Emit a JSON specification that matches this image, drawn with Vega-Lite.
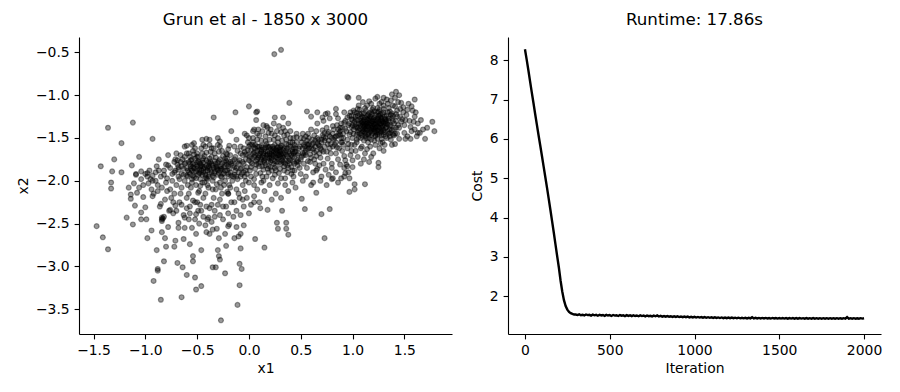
{
"$schema": "https://vega.github.io/schema/vega-lite/v6.json",
"background": "white",
"padding": {"left": 16, "top": 12, "right": 5, "bottom": 5},
"config": {
 "font": "DejaVu Sans",
 "view": {"stroke": null},
 "axis": {"domainColor": "black", "domainWidth": 1.1, "tickColor": "black", "tickWidth": 1.1, "tickSize": 4.9, "labelPadding": 4.9, "labelColor": "black", "labelFontSize": 13.9, "labelFont": "DejaVu Sans", "titleFont": "DejaVu Sans", "titleFontSize": 13.9, "titleFontWeight": "normal", "titleColor": "black", "grid": false, "labelFlush": false, "labelOverlap": false, "titlePadding": 5},
 "title": {"fontSize": 16.7, "fontWeight": "normal", "font": "DejaVu Sans", "color": "black", "anchor": "middle", "frame": "group", "offset": 8},
 "concat": {"spacing": 18}
},
"datasets": {
"scatter": [
{"x1":0.245,"x2":-0.52},{"x1":0.31,"x2":-0.47},
{"x1":-1.47,"x2":-2.53},{"x1":-1.41,"x2":-2.66},{"x1":-1.36,"x2":-2.80},{"x1":-1.36,"x2":-1.38},{"x1":-1.43,"x2":-1.83},{"x1":-1.30,"x2":-1.75},{"x1":-1.32,"x2":-1.89},{"x1":-1.33,"x2":-2.02},{"x1":-1.33,"x2":-2.09},{"x1":-1.23,"x2":-1.90},{"x1":-1.23,"x2":-1.56},{"x1":-1.12,"x2":-1.32},{"x1":-1.18,"x2":-2.43},{"x1":-1.13,"x2":-1.82},{"x1":-1.12,"x2":-2.51},{"x1":-1.16,"x2":-2.08},{"x1":-1.14,"x2":-2.21},{"x1":-1.10,"x2":-2.29},{"x1":-1.06,"x2":-1.72},{"x1":-1.08,"x2":-2.14},{"x1":-1.04,"x2":-2.37},{"x1":-1.02,"x2":-2.19},{"x1":-1.00,"x2":-2.31},{"x1":-0.98,"x2":-2.67},{"x1":-0.94,"x2":-2.58},{"x1":-0.93,"x2":-1.51},{"x1":-0.92,"x2":-3.17},{"x1":-0.89,"x2":-2.81},{"x1":-0.88,"x2":-3.03},{"x1":-0.88,"x2":-3.05},{"x1":-0.85,"x2":-3.39},{"x1":-0.84,"x2":-2.43},{"x1":-0.84,"x2":-2.60},{"x1":-0.84,"x2":-2.45},{"x1":-0.82,"x2":-2.94},{"x1":-0.81,"x2":-2.67},{"x1":-0.80,"x2":-2.77},{"x1":-0.78,"x2":-2.54},{"x1":-0.72,"x2":-2.77},{"x1":-0.71,"x2":-2.70},{"x1":-0.69,"x2":-2.96},{"x1":-0.68,"x2":-2.49},{"x1":-0.65,"x2":-3.36},{"x1":-0.64,"x2":-3.01},{"x1":-0.63,"x2":-2.68},{"x1":-0.62,"x2":-2.55},{"x1":-0.60,"x2":-3.10},{"x1":-0.57,"x2":-2.74},{"x1":-0.54,"x2":-2.94},{"x1":-0.54,"x2":-2.88},{"x1":-0.52,"x2":-3.13},{"x1":-0.51,"x2":-3.27},{"x1":-0.51,"x2":-2.62},{"x1":-0.46,"x2":-3.23},{"x1":-0.46,"x2":-2.81},{"x1":-0.41,"x2":-2.60},{"x1":-0.35,"x2":-3.01},{"x1":-0.32,"x2":-3.01},{"x1":-0.31,"x2":-2.56},{"x1":-0.30,"x2":-2.81},{"x1":-0.29,"x2":-2.88},{"x1":-0.29,"x2":-2.67},{"x1":-0.28,"x2":-2.92},{"x1":-0.27,"x2":-3.63},{"x1":-0.23,"x2":-3.08},{"x1":-0.22,"x2":-2.76},{"x1":-0.20,"x2":-2.53},{"x1":-0.14,"x2":-2.67},{"x1":-0.11,"x2":-3.45},{"x1":-0.12,"x2":-2.54},{"x1":-0.10,"x2":-2.65},{"x1":-0.09,"x2":-3.22},{"x1":-0.09,"x2":-2.97},{"x1":-0.07,"x2":-3.03},{"x1":-0.05,"x2":-2.52},{"x1":0.06,"x2":-2.68},{"x1":0.15,"x2":-2.78},{"x1":0.27,"x2":-2.49},{"x1":0.28,"x2":-2.56},{"x1":0.36,"x2":-2.49},{"x1":0.36,"x2":-2.56},{"x1":0.38,"x2":-2.63},{"x1":0.51,"x2":-2.21},{"x1":0.54,"x2":-2.33},{"x1":0.70,"x2":-2.39},{"x1":0.78,"x2":-2.33},{"x1":0.73,"x2":-2.67},{"x1":0.65,"x2":-2.14},{"x1":0.62,"x2":-2.02},{"x1":0.69,"x2":-2.00},{"x1":0.80,"x2":-1.98},{"x1":0.89,"x2":-1.97},{"x1":0.97,"x2":-2.13},{"x1":1.02,"x2":-2.10},{"x1":1.02,"x2":-2.04},{"x1":1.12,"x2":-2.04},{"x1":0.96,"x2":-1.03},{"x1":1.06,"x2":-1.03},{"x1":1.41,"x2":-1.03},{"x1":1.42,"x2":-0.96},{"x1":1.60,"x2":-1.05},{"x1":1.79,"x2":-1.42},{"x1":1.77,"x2":-1.31},{"x1":1.70,"x2":-1.51},{"x1":1.68,"x2":-1.40},{"x1":1.56,"x2":-1.51},{"x1":1.16,"x2":-1.78},{"x1":1.25,"x2":-1.79},{"x1":0.39,"x2":-1.09},{"x1":0.00,"x2":-1.13},{"x1":-0.34,"x2":-1.26},{"x1":-0.13,"x2":-1.20},{"x1":0.07,"x2":-1.20},{"x1":0.25,"x2":-1.26},{"x1":0.33,"x2":-1.26},
{"x1":0.32,"x2":-2.35},{"x1":0.18,"x2":-2.34},{"x1":0.11,"x2":-2.32},{"x1":-0.19,"x2":-2.51},{"x1":-0.08,"x2":-2.62},{"x1":-0.23,"x2":-2.62},{"x1":-0.38,"x2":-2.62},{"x1":-0.35,"x2":-2.57},{"x1":-0.08,"x2":-2.79},
{"x1":-1.14,"x2":-2.16},{"x1":-0.99,"x2":-2.45},{"x1":-1.04,"x2":-2.45},{"x1":-0.93,"x2":-2.18},{"x1":-0.88,"x2":-2.12},{"x1":-0.85,"x2":-2.27},{"x1":-0.82,"x2":-2.42},{"x1":-0.73,"x2":-2.38},{"x1":-0.76,"x2":-2.34},{"x1":-0.71,"x2":-2.29},{"x1":-0.62,"x2":-2.43},{"x1":-0.57,"x2":-2.38},{"x1":-0.54,"x2":-2.23},{"x1":-0.51,"x2":-2.39},{"x1":-0.46,"x2":-2.35},{"x1":-0.49,"x2":-2.14},
{"x1":-0.87,"x2":-1.75},{"x1":-0.71,"x2":-1.75},{"x1":-0.69,"x2":-1.81},{"x1":-0.60,"x2":-1.59},{"x1":-0.53,"x2":-1.56},{"x1":-0.80,"x2":-1.81},{"x1":-0.89,"x2":-1.83},{"x1":-1.04,"x2":-1.89},{"x1":-0.98,"x2":-1.91},{"x1":-0.93,"x2":-1.94},{"x1":-1.09,"x2":-1.92},{"x1":-1.11,"x2":-2.03},
{"x1":0.08,"x2":-1.19},{"x1":0.07,"x2":-1.29},{"x1":0.56,"x2":-1.19},{"x1":0.71,"x2":-1.26},{"x1":-0.17,"x2":-1.42},{"x1":-0.04,"x2":-1.45},{"x1":0.05,"x2":-1.40},{"x1":0.17,"x2":-1.36},{"x1":-0.41,"x2":-1.51},{"x1":-0.28,"x2":-1.54},{"x1":-0.12,"x2":-1.52},{"x1":-0.19,"x2":-1.59},
{"x1":1.63,"x2":-1.44},{"x1":1.51,"x2":-1.51},{"x1":1.25,"x2":-1.84},{"x1":1.00,"x2":-1.84},{"x1":0.94,"x2":-1.81},{"x1":0.93,"x2":-1.91},{"x1":0.81,"x2":-1.97},{"x1":0.95,"x2":-1.02},{"x1":1.24,"x2":-1.02},{"x1":0.84,"x2":-1.16},{"x1":0.76,"x2":-1.21},
{"x1":1.02,"x2":-1.31},{"x1":1.05,"x2":-1.38},{"x1":1.08,"x2":-1.27},{"x1":1.11,"x2":-1.42},{"x1":1.14,"x2":-1.33},{"x1":1.17,"x2":-1.25},{"x1":1.20,"x2":-1.39},{"x1":1.23,"x2":-1.30},{"x1":1.26,"x2":-1.45},{"x1":1.29,"x2":-1.36},{"x1":1.32,"x2":-1.28},{"x1":1.04,"x2":-1.46},{"x1":1.07,"x2":-1.22},{"x1":1.10,"x2":-1.35},{"x1":1.13,"x2":-1.48},{"x1":1.16,"x2":-1.40},{"x1":1.19,"x2":-1.31},{"x1":1.22,"x2":-1.23},{"x1":1.25,"x2":-1.37},{"x1":1.28,"x2":-1.29},{"x1":1.31,"x2":-1.43},{"x1":1.34,"x2":-1.34},{"x1":1.01,"x2":-1.40},{"x1":1.06,"x2":-1.33},{"x1":1.09,"x2":-1.44},{"x1":1.12,"x2":-1.26},{"x1":1.15,"x2":-1.37},{"x1":1.18,"x2":-1.47},{"x1":1.21,"x2":-1.34},{"x1":1.24,"x2":-1.27},{"x1":1.27,"x2":-1.41},{"x1":1.30,"x2":-1.32},{"x1":1.33,"x2":-1.24},{"x1":1.03,"x2":-1.25},{"x1":1.08,"x2":-1.36},{"x1":1.11,"x2":-1.29},{"x1":1.14,"x2":-1.41},{"x1":1.17,"x2":-1.35},{"x1":1.20,"x2":-1.28},{"x1":1.23,"x2":-1.44},{"x1":1.26,"x2":-1.33},{"x1":1.29,"x2":-1.22},{"x1":1.32,"x2":-1.38},{"x1":1.35,"x2":-1.30},{"x1":1.00,"x2":-1.35},{"x1":1.05,"x2":-1.29},{"x1":1.10,"x2":-1.39},{"x1":1.13,"x2":-1.31},{"x1":1.16,"x2":-1.44},{"x1":1.19,"x2":-1.22},{"x1":1.22,"x2":-1.38},{"x1":1.25,"x2":-1.31},{"x1":1.28,"x2":-1.47},{"x1":1.31,"x2":-1.35},{"x1":1.12,"x2":-1.36},{"x1":1.18,"x2":-1.33},{"x1":1.24,"x2":-1.36},{"x1":1.15,"x2":-1.29},{"x1":1.21,"x2":-1.42},{"x1":1.27,"x2":-1.26},{"x1":0.98,"x2":-1.43},{"x1":1.36,"x2":-1.40},{"x1":1.09,"x2":-1.32},{"x1":1.27,"x2":-1.34},
{"x1":1.03,"x2":-1.34},{"x1":1.06,"x2":-1.41},{"x1":1.09,"x2":-1.25},{"x1":1.12,"x2":-1.47},{"x1":1.15,"x2":-1.32},{"x1":1.18,"x2":-1.38},{"x1":1.21,"x2":-1.26},{"x1":1.24,"x2":-1.41},{"x1":1.27,"x2":-1.30},{"x1":1.30,"x2":-1.46},{"x1":1.33,"x2":-1.37},{"x1":1.05,"x2":-1.24},{"x1":1.08,"x2":-1.30},{"x1":1.11,"x2":-1.37},{"x1":1.14,"x2":-1.24},{"x1":1.17,"x2":-1.43},{"x1":1.20,"x2":-1.33},{"x1":1.23,"x2":-1.37},{"x1":1.26,"x2":-1.24},{"x1":1.29,"x2":-1.40},{"x1":1.32,"x2":-1.31},{"x1":1.07,"x2":-1.45},{"x1":1.10,"x2":-1.31},{"x1":1.13,"x2":-1.39},{"x1":1.16,"x2":-1.27},{"x1":1.19,"x2":-1.45},{"x1":1.22,"x2":-1.29},{"x1":1.25,"x2":-1.43},{"x1":1.28,"x2":-1.33},{"x1":1.31,"x2":-1.25},{"x1":1.04,"x2":-1.37},{"x1":1.13,"x2":-1.34},{"x1":1.19,"x2":-1.36},{"x1":1.22,"x2":-1.33},{"x1":1.16,"x2":-1.34},{"x1":1.25,"x2":-1.28},{"x1":1.10,"x2":-1.42},{"x1":1.28,"x2":-1.38},{"x1":1.14,"x2":-1.28},{"x1":1.21,"x2":-1.40},{"x1":1.35,"x2":-1.27},{"x1":1.37,"x2":-1.35},{"x1":1.39,"x2":-1.24},{"x1":1.36,"x2":-1.44},{"x1":1.00,"x2":-1.29},{"x1":0.99,"x2":-1.37},{"x1":1.11,"x2":-1.21},{"x1":1.18,"x2":-1.20},{"x1":1.24,"x2":-1.20},{"x1":1.30,"x2":-1.20},
{"x1":0.88,"x2":-1.38},{"x1":0.91,"x2":-1.45},{"x1":0.93,"x2":-1.30},{"x1":0.95,"x2":-1.52},{"x1":0.97,"x2":-1.24},{"x1":0.99,"x2":-1.58},{"x1":1.01,"x2":-1.18},{"x1":1.04,"x2":-1.55},{"x1":1.06,"x2":-1.12},{"x1":1.09,"x2":-1.60},{"x1":1.12,"x2":-1.15},{"x1":1.15,"x2":-1.55},{"x1":1.18,"x2":-1.10},{"x1":1.21,"x2":-1.53},{"x1":1.24,"x2":-1.15},{"x1":1.27,"x2":-1.56},{"x1":1.30,"x2":-1.12},{"x1":1.33,"x2":-1.50},{"x1":1.36,"x2":-1.19},{"x1":1.39,"x2":-1.46},{"x1":1.42,"x2":-1.22},{"x1":1.45,"x2":-1.38},{"x1":1.48,"x2":-1.28},{"x1":1.40,"x2":-1.33},{"x1":1.38,"x2":-1.27},{"x1":1.43,"x2":-1.45},{"x1":1.46,"x2":-1.16},{"x1":1.50,"x2":-1.35},{"x1":1.52,"x2":-1.23},{"x1":1.55,"x2":-1.30},{"x1":1.57,"x2":-1.42},{"x1":1.53,"x2":-1.48},{"x1":1.58,"x2":-1.18},{"x1":1.60,"x2":-1.25},{"x1":1.47,"x2":-1.09},{"x1":1.44,"x2":-1.08},{"x1":1.37,"x2":-1.06},{"x1":1.33,"x2":-1.05},{"x1":1.28,"x2":-1.08},{"x1":1.22,"x2":-1.04},{"x1":1.16,"x2":-1.07},{"x1":1.10,"x2":-1.08},{"x1":0.92,"x2":-1.20},{"x1":0.90,"x2":-1.55},{"x1":0.86,"x2":-1.27},{"x1":0.84,"x2":-1.48},{"x1":0.95,"x2":-1.62},{"x1":1.03,"x2":-1.65},{"x1":1.14,"x2":-1.63},{"x1":1.20,"x2":-1.68},{"x1":1.26,"x2":-1.62},{"x1":1.31,"x2":-1.58},{"x1":1.37,"x2":-1.52},{"x1":1.41,"x2":-1.57},{"x1":1.05,"x2":-1.72},{"x1":0.98,"x2":-1.70},{"x1":1.11,"x2":-1.75},{"x1":0.93,"x2":-1.76},{"x1":1.60,"x2":-1.40},{"x1":1.63,"x2":-1.33},{"x1":1.65,"x2":-1.44},{"x1":1.41,"x2":-1.13},{"x1":1.35,"x2":-1.15},{"x1":1.49,"x2":-1.20},{"x1":1.54,"x2":-1.10},{"x1":0.96,"x2":-1.35},{"x1":0.99,"x2":-1.28},{"x1":0.94,"x2":-1.42},{"x1":1.19,"x2":-1.17},{"x1":1.25,"x2":-1.19},
{"x1":0.48,"x2":-1.62},{"x1":0.51,"x2":-1.55},{"x1":0.53,"x2":-1.70},{"x1":0.55,"x2":-1.48},{"x1":0.57,"x2":-1.63},{"x1":0.59,"x2":-1.78},{"x1":0.61,"x2":-1.52},{"x1":0.63,"x2":-1.67},{"x1":0.65,"x2":-1.42},{"x1":0.67,"x2":-1.58},{"x1":0.69,"x2":-1.73},{"x1":0.71,"x2":-1.47},{"x1":0.73,"x2":-1.60},{"x1":0.75,"x2":-1.38},{"x1":0.77,"x2":-1.53},{"x1":0.79,"x2":-1.68},{"x1":0.81,"x2":-1.45},{"x1":0.83,"x2":-1.58},{"x1":0.85,"x2":-1.35},{"x1":0.87,"x2":-1.62},{"x1":0.89,"x2":-1.50},{"x1":0.56,"x2":-1.85},{"x1":0.62,"x2":-1.90},{"x1":0.68,"x2":-1.82},{"x1":0.74,"x2":-1.87},{"x1":0.80,"x2":-1.80},{"x1":0.86,"x2":-1.75},{"x1":0.60,"x2":-1.40},{"x1":0.66,"x2":-1.33},{"x1":0.72,"x2":-1.30},{"x1":0.78,"x2":-1.27},{"x1":0.84,"x2":-1.22},{"x1":0.52,"x2":-1.45},{"x1":0.58,"x2":-1.57},{"x1":0.64,"x2":-1.60},{"x1":0.70,"x2":-1.55},{"x1":0.76,"x2":-1.45},{"x1":0.82,"x2":-1.40},{"x1":0.88,"x2":-1.42},{"x1":0.54,"x2":-1.60},{"x1":0.66,"x2":-1.50},{"x1":0.72,"x2":-1.66},{"x1":0.90,"x2":-1.65},{"x1":0.50,"x2":-1.75},{"x1":0.63,"x2":-1.75},{"x1":0.77,"x2":-1.93},{"x1":0.84,"x2":-1.90},{"x1":0.70,"x2":-1.95},{"x1":0.55,"x2":-1.95},{"x1":0.92,"x2":-1.85},{"x1":0.96,"x2":-1.90},{"x1":0.60,"x2":-1.25},{"x1":0.74,"x2":-1.22},{"x1":0.66,"x2":-1.20},
{"x1":0.02,"x2":-1.65},{"x1":0.05,"x2":-1.72},{"x1":0.08,"x2":-1.60},{"x1":0.11,"x2":-1.78},{"x1":0.14,"x2":-1.68},{"x1":0.17,"x2":-1.57},{"x1":0.20,"x2":-1.74},{"x1":0.23,"x2":-1.64},{"x1":0.26,"x2":-1.82},{"x1":0.29,"x2":-1.70},{"x1":0.32,"x2":-1.59},{"x1":0.35,"x2":-1.76},{"x1":0.38,"x2":-1.66},{"x1":0.41,"x2":-1.84},{"x1":0.44,"x2":-1.72},{"x1":0.03,"x2":-1.80},{"x1":0.06,"x2":-1.62},{"x1":0.09,"x2":-1.70},{"x1":0.12,"x2":-1.59},{"x1":0.15,"x2":-1.76},{"x1":0.18,"x2":-1.66},{"x1":0.21,"x2":-1.84},{"x1":0.24,"x2":-1.71},{"x1":0.27,"x2":-1.61},{"x1":0.30,"x2":-1.78},{"x1":0.33,"x2":-1.68},{"x1":0.36,"x2":-1.57},{"x1":0.39,"x2":-1.74},{"x1":0.42,"x2":-1.63},{"x1":0.04,"x2":-1.68},{"x1":0.07,"x2":-1.77},{"x1":0.10,"x2":-1.64},{"x1":0.13,"x2":-1.72},{"x1":0.16,"x2":-1.82},{"x1":0.19,"x2":-1.61},{"x1":0.22,"x2":-1.69},{"x1":0.25,"x2":-1.58},{"x1":0.28,"x2":-1.75},{"x1":0.31,"x2":-1.65},{"x1":0.34,"x2":-1.83},{"x1":0.37,"x2":-1.71},{"x1":0.40,"x2":-1.60},{"x1":0.43,"x2":-1.78},{"x1":0.01,"x2":-1.72},{"x1":0.26,"x2":-1.68},{"x1":0.22,"x2":-1.76},{"x1":0.30,"x2":-1.72},{"x1":0.18,"x2":-1.73},{"x1":0.33,"x2":-1.64},{"x1":0.24,"x2":-1.66},{"x1":0.28,"x2":-1.67},{"x1":0.20,"x2":-1.68},{"x1":0.12,"x2":-1.66},{"x1":0.36,"x2":-1.69},{"x1":0.08,"x2":-1.75},{"x1":0.15,"x2":-1.63},{"x1":0.27,"x2":-1.73},{"x1":0.31,"x2":-1.80},{"x1":0.23,"x2":-1.60},
{"x1":0.05,"x2":-1.67},{"x1":0.09,"x2":-1.73},{"x1":0.13,"x2":-1.61},{"x1":0.17,"x2":-1.70},{"x1":0.21,"x2":-1.63},{"x1":0.25,"x2":-1.77},{"x1":0.29,"x2":-1.64},{"x1":0.33,"x2":-1.73},{"x1":0.37,"x2":-1.62},{"x1":0.41,"x2":-1.70},{"x1":0.07,"x2":-1.81},{"x1":0.11,"x2":-1.68},{"x1":0.15,"x2":-1.79},{"x1":0.19,"x2":-1.77},{"x1":0.23,"x2":-1.70},{"x1":0.27,"x2":-1.65},{"x1":0.31,"x2":-1.69},{"x1":0.35,"x2":-1.80},{"x1":0.39,"x2":-1.68},{"x1":0.03,"x2":-1.74},{"x1":0.20,"x2":-1.60},{"x1":0.24,"x2":-1.80},{"x1":0.28,"x2":-1.61},{"x1":0.32,"x2":-1.76},{"x1":0.16,"x2":-1.66},{"x1":0.12,"x2":-1.75},{"x1":0.26,"x2":-1.72},{"x1":0.22,"x2":-1.66},{"x1":0.30,"x2":-1.66},{"x1":0.18,"x2":-1.69},{"x1":0.34,"x2":-1.70},{"x1":0.10,"x2":-1.60},{"x1":0.14,"x2":-1.70},{"x1":0.38,"x2":-1.77},{"x1":0.06,"x2":-1.58},{"x1":0.42,"x2":-1.66},
{"x1":-0.05,"x2":-1.62},{"x1":-0.03,"x2":-1.75},{"x1":-0.01,"x2":-1.55},{"x1":0.01,"x2":-1.88},{"x1":0.04,"x2":-1.50},{"x1":0.07,"x2":-1.92},{"x1":0.10,"x2":-1.47},{"x1":0.13,"x2":-1.95},{"x1":0.16,"x2":-1.48},{"x1":0.19,"x2":-1.90},{"x1":0.22,"x2":-1.45},{"x1":0.25,"x2":-1.93},{"x1":0.28,"x2":-1.50},{"x1":0.31,"x2":-1.97},{"x1":0.34,"x2":-1.47},{"x1":0.37,"x2":-1.90},{"x1":0.40,"x2":-1.50},{"x1":0.43,"x2":-1.95},{"x1":0.46,"x2":-1.55},{"x1":0.49,"x2":-1.85},{"x1":0.52,"x2":-1.68},{"x1":0.47,"x2":-1.70},{"x1":0.45,"x2":-1.62},{"x1":0.50,"x2":-1.92},{"x1":-0.07,"x2":-1.85},{"x1":-0.04,"x2":-1.95},{"x1":0.00,"x2":-2.02},{"x1":0.05,"x2":-2.05},{"x1":0.12,"x2":-2.02},{"x1":0.20,"x2":-2.05},{"x1":0.28,"x2":-2.03},{"x1":0.35,"x2":-2.05},{"x1":0.42,"x2":-2.02},{"x1":0.09,"x2":-1.40},{"x1":0.18,"x2":-1.38},{"x1":0.27,"x2":-1.42},{"x1":0.33,"x2":-1.38},{"x1":0.40,"x2":-1.42},{"x1":0.14,"x2":-1.35},{"x1":0.24,"x2":-1.33},{"x1":0.04,"x2":-1.42},{"x1":0.38,"x2":-1.33},{"x1":0.46,"x2":-1.45},{"x1":-0.02,"x2":-1.47},{"x1":0.15,"x2":-2.12},{"x1":0.26,"x2":-2.15},{"x1":0.05,"x2":-2.18},{"x1":0.38,"x2":-2.12},{"x1":0.31,"x2":-2.20},{"x1":0.45,"x2":-2.08},{"x1":0.10,"x2":-2.25},{"x1":0.22,"x2":-2.22},{"x1":-0.06,"x2":-1.70},{"x1":0.48,"x2":-1.78},{"x1":0.53,"x2":-1.80},
{"x1":-0.60,"x2":-1.85},{"x1":-0.57,"x2":-1.92},{"x1":-0.54,"x2":-1.80},{"x1":-0.51,"x2":-1.97},{"x1":-0.48,"x2":-1.87},{"x1":-0.45,"x2":-1.76},{"x1":-0.42,"x2":-1.93},{"x1":-0.39,"x2":-1.83},{"x1":-0.36,"x2":-1.72},{"x1":-0.33,"x2":-1.89},{"x1":-0.30,"x2":-1.79},{"x1":-0.27,"x2":-1.95},{"x1":-0.24,"x2":-1.84},{"x1":-0.21,"x2":-1.74},{"x1":-0.18,"x2":-1.90},{"x1":-0.15,"x2":-1.82},{"x1":-0.58,"x2":-1.78},{"x1":-0.55,"x2":-1.88},{"x1":-0.52,"x2":-1.74},{"x1":-0.49,"x2":-1.93},{"x1":-0.46,"x2":-1.82},{"x1":-0.43,"x2":-1.71},{"x1":-0.40,"x2":-1.88},{"x1":-0.37,"x2":-1.78},{"x1":-0.34,"x2":-1.96},{"x1":-0.31,"x2":-1.86},{"x1":-0.28,"x2":-1.75},{"x1":-0.25,"x2":-1.92},{"x1":-0.22,"x2":-1.81},{"x1":-0.19,"x2":-1.86},{"x1":-0.16,"x2":-1.77},{"x1":-0.59,"x2":-1.95},{"x1":-0.56,"x2":-1.83},{"x1":-0.53,"x2":-1.90},{"x1":-0.50,"x2":-1.79},{"x1":-0.47,"x2":-1.98},{"x1":-0.44,"x2":-1.86},{"x1":-0.41,"x2":-1.76},{"x1":-0.38,"x2":-1.92},{"x1":-0.35,"x2":-1.82},{"x1":-0.32,"x2":-1.73},{"x1":-0.29,"x2":-1.91},{"x1":-0.26,"x2":-1.80},{"x1":-0.23,"x2":-1.88},{"x1":-0.20,"x2":-1.83},{"x1":-0.50,"x2":-1.86},{"x1":-0.44,"x2":-1.90},{"x1":-0.47,"x2":-1.84},{"x1":-0.53,"x2":-1.85},{"x1":-0.41,"x2":-1.82},{"x1":-0.38,"x2":-1.85},
{"x1":-0.56,"x2":-1.86},{"x1":-0.52,"x2":-1.81},{"x1":-0.48,"x2":-1.91},{"x1":-0.44,"x2":-1.79},{"x1":-0.40,"x2":-1.85},{"x1":-0.36,"x2":-1.90},{"x1":-0.32,"x2":-1.80},{"x1":-0.28,"x2":-1.88},{"x1":-0.24,"x2":-1.78},{"x1":-0.20,"x2":-1.92},{"x1":-0.54,"x2":-1.94},{"x1":-0.50,"x2":-1.83},{"x1":-0.46,"x2":-1.88},{"x1":-0.42,"x2":-1.96},{"x1":-0.38,"x2":-1.80},{"x1":-0.34,"x2":-1.85},{"x1":-0.30,"x2":-1.93},{"x1":-0.26,"x2":-1.86},{"x1":-0.22,"x2":-1.77},{"x1":-0.58,"x2":-1.90},{"x1":-0.49,"x2":-1.77},{"x1":-0.43,"x2":-1.84},{"x1":-0.37,"x2":-1.87},{"x1":-0.31,"x2":-1.83},{"x1":-0.45,"x2":-1.93},{"x1":-0.55,"x2":-1.75},{"x1":-0.27,"x2":-1.83},{"x1":-0.33,"x2":-1.77},{"x1":-0.39,"x2":-1.95},{"x1":-0.47,"x2":-1.80},
{"x1":-0.85,"x2":-1.95},{"x1":-0.82,"x2":-1.88},{"x1":-0.80,"x2":-2.02},{"x1":-0.78,"x2":-1.82},{"x1":-0.76,"x2":-2.10},{"x1":-0.74,"x2":-1.92},{"x1":-0.72,"x2":-1.78},{"x1":-0.70,"x2":-2.05},{"x1":-0.68,"x2":-1.87},{"x1":-0.66,"x2":-2.15},{"x1":-0.64,"x2":-1.75},{"x1":-0.62,"x2":-2.00},{"x1":-0.60,"x2":-2.20},{"x1":-0.58,"x2":-1.68},{"x1":-0.56,"x2":-2.08},{"x1":-0.54,"x2":-1.65},{"x1":-0.52,"x2":-2.25},{"x1":-0.50,"x2":-1.68},{"x1":-0.48,"x2":-2.12},{"x1":-0.46,"x2":-1.62},{"x1":-0.44,"x2":-2.20},{"x1":-0.42,"x2":-1.60},{"x1":-0.40,"x2":-2.05},{"x1":-0.38,"x2":-1.58},{"x1":-0.36,"x2":-2.28},{"x1":-0.34,"x2":-1.62},{"x1":-0.32,"x2":-2.10},{"x1":-0.30,"x2":-1.58},{"x1":-0.28,"x2":-2.22},{"x1":-0.26,"x2":-1.65},{"x1":-0.24,"x2":-2.05},{"x1":-0.22,"x2":-1.68},{"x1":-0.20,"x2":-2.15},{"x1":-0.18,"x2":-1.70},{"x1":-0.16,"x2":-2.00},{"x1":-0.14,"x2":-1.75},{"x1":-0.12,"x2":-2.10},{"x1":-0.10,"x2":-1.80},{"x1":-0.08,"x2":-1.95},{"x1":-0.06,"x2":-2.05},{"x1":-0.11,"x2":-1.65},{"x1":-0.13,"x2":-1.88},{"x1":-0.09,"x2":-2.20},{"x1":-0.17,"x2":-2.25},{"x1":-0.25,"x2":-2.30},{"x1":-0.33,"x2":-2.35},{"x1":-0.41,"x2":-2.30},{"x1":-0.49,"x2":-2.35},{"x1":-0.57,"x2":-2.30},{"x1":-0.65,"x2":-2.28},{"x1":-0.73,"x2":-2.25},{"x1":-0.81,"x2":-2.22},{"x1":-0.88,"x2":-2.05},{"x1":-0.90,"x2":-1.90},{"x1":-0.93,"x2":-2.00},{"x1":-0.96,"x2":-1.88},{"x1":-0.98,"x2":-1.95},{"x1":-1.00,"x2":-1.92},{"x1":-1.04,"x2":-1.98},{"x1":-1.06,"x2":-2.08},{"x1":-1.09,"x2":-1.93},{"x1":-0.78,"x2":-1.70},{"x1":-0.70,"x2":-1.68},{"x1":-0.62,"x2":-1.60},{"x1":-0.55,"x2":-1.58},{"x1":-0.45,"x2":-1.52},{"x1":-0.38,"x2":-1.52},{"x1":-0.30,"x2":-1.50},{"x1":-0.62,"x2":-1.72},{"x1":-0.68,"x2":-1.95},{"x1":-0.35,"x2":-2.00},{"x1":-0.45,"x2":-2.02},{"x1":-0.55,"x2":-2.02},{"x1":-0.28,"x2":-2.02},{"x1":-0.20,"x2":-1.95},{"x1":-0.72,"x2":-2.15},{"x1":-0.77,"x2":-2.35},{"x1":-0.63,"x2":-2.40},{"x1":-0.52,"x2":-2.45},{"x1":-0.44,"x2":-2.42},{"x1":-0.36,"x2":-2.48},{"x1":-0.28,"x2":-2.40},{"x1":-0.20,"x2":-2.38},{"x1":-0.12,"x2":-2.35},{"x1":-0.05,"x2":-2.30},{"x1":-0.02,"x2":-2.20},{"x1":0.02,"x2":-2.28},{"x1":-0.86,"x2":-2.30},{"x1":-0.92,"x2":-2.15},
{"x1":-0.12,"x2":-1.85},{"x1":-0.10,"x2":-1.90},{"x1":-0.14,"x2":-1.93},{"x1":-0.20,"x2":-2.15},{"x1":-0.21,"x2":-2.13},{"x1":-0.40,"x2":-2.45},{"x1":-0.39,"x2":-2.43},{"x1":0.65,"x2":-1.88},{"x1":0.66,"x2":-1.86},{"x1":0.95,"x2":-1.83},{"x1":0.56,"x2":-1.53},{"x1":0.58,"x2":-1.62},{"x1":0.53,"x2":-1.58},{"x1":-0.02,"x2":-1.92},{"x1":0.02,"x2":-1.95},{"x1":0.08,"x2":-2.10},{"x1":0.14,"x2":-2.00},{"x1":-0.84,"x2":-2.47},{"x1":-0.83,"x2":-2.44},
{"x1":0.42,"x2":-1.55},{"x1":0.44,"x2":-1.66},{"x1":0.46,"x2":-1.49},{"x1":0.49,"x2":-1.60},{"x1":0.51,"x2":-1.72},{"x1":0.53,"x2":-1.51},{"x1":0.55,"x2":-1.64},{"x1":0.57,"x2":-1.45},{"x1":0.59,"x2":-1.69},{"x1":0.61,"x2":-1.58},{"x1":0.63,"x2":-1.47},{"x1":0.65,"x2":-1.71},{"x1":0.67,"x2":-1.52},{"x1":0.69,"x2":-1.62},{"x1":0.71,"x2":-1.41},{"x1":0.73,"x2":-1.53},{"x1":0.75,"x2":-1.66},{"x1":0.77,"x2":-1.43},{"x1":0.79,"x2":-1.57},{"x1":0.81,"x2":-1.36},{"x1":0.83,"x2":-1.49},{"x1":0.85,"x2":-1.61},{"x1":0.87,"x2":-1.44},{"x1":0.89,"x2":-1.33},{"x1":0.91,"x2":-1.58},{"x1":0.93,"x2":-1.39},{"x1":0.50,"x2":-1.50},{"x1":0.54,"x2":-1.67},{"x1":0.58,"x2":-1.50},{"x1":0.62,"x2":-1.63},{"x1":0.66,"x2":-1.56},{"x1":0.70,"x2":-1.64},{"x1":0.74,"x2":-1.50},{"x1":0.78,"x2":-1.62},{"x1":0.82,"x2":-1.52},{"x1":0.86,"x2":-1.47},{"x1":0.90,"x2":-1.38},{"x1":0.60,"x2":-1.73},{"x1":0.68,"x2":-1.68},{"x1":0.76,"x2":-1.74},{"x1":0.84,"x2":-1.68},{"x1":0.92,"x2":-1.71},{"x1":0.64,"x2":-1.80},{"x1":0.72,"x2":-1.80},{"x1":0.80,"x2":-1.85},{"x1":0.88,"x2":-1.81},{"x1":0.57,"x2":-1.77},{"x1":0.47,"x2":-1.82},{"x1":0.44,"x2":-1.88},{"x1":0.52,"x2":-2.00},{"x1":0.60,"x2":-2.05},{"x1":0.75,"x2":-2.05},{"x1":0.86,"x2":-2.02},{"x1":0.97,"x2":-1.97},{"x1":0.92,"x2":-1.95},
{"x1":0.92,"x2":-1.32},{"x1":0.95,"x2":-1.26},{"x1":0.97,"x2":-1.46},{"x1":1.00,"x2":-1.50},{"x1":1.02,"x2":-1.20},{"x1":1.04,"x2":-1.52},{"x1":1.07,"x2":-1.17},{"x1":1.08,"x2":-1.50},{"x1":1.11,"x2":-1.53},{"x1":1.13,"x2":-1.18},{"x1":1.16,"x2":-1.50},{"x1":1.18,"x2":-1.52},{"x1":1.20,"x2":-1.15},{"x1":1.22,"x2":-1.48},{"x1":1.24,"x2":-1.51},{"x1":1.26,"x2":-1.17},{"x1":1.28,"x2":-1.51},{"x1":1.30,"x2":-1.16},{"x1":1.32,"x2":-1.48},{"x1":1.34,"x2":-1.20},{"x1":1.36,"x2":-1.48},{"x1":1.38,"x2":-1.21},{"x1":1.40,"x2":-1.40},{"x1":1.42,"x2":-1.30},{"x1":1.44,"x2":-1.35},{"x1":1.46,"x2":-1.25},{"x1":1.41,"x2":-1.45},{"x1":1.43,"x2":-1.18},{"x1":1.34,"x2":-1.10},{"x1":1.26,"x2":-1.10},{"x1":1.14,"x2":-1.12},{"x1":1.05,"x2":-1.16},{"x1":0.98,"x2":-1.20},{"x1":1.47,"x2":-1.31},{"x1":1.50,"x2":-1.44},{"x1":1.45,"x2":-1.51},{"x1":1.38,"x2":-1.58},{"x1":1.22,"x2":-1.58},{"x1":1.08,"x2":-1.62},{"x1":0.99,"x2":-1.65},{"x1":1.17,"x2":-1.60},{"x1":1.29,"x2":-1.55},{"x1":1.49,"x2":-1.14},{"x1":1.51,"x2":-1.29},{"x1":1.39,"x2":-1.12},{"x1":1.02,"x2":-1.58},{"x1":0.91,"x2":-1.50},{"x1":0.96,"x2":-1.57},{"x1":1.12,"x2":-1.68},{"x1":1.00,"x2":-1.76},{"x1":1.08,"x2":-1.80},{"x1":1.18,"x2":-1.72},{"x1":1.30,"x2":-1.65},{"x1":1.56,"x2":-1.37},{"x1":1.59,"x2":-1.31},{"x1":1.61,"x2":-1.20},{"x1":1.66,"x2":-1.29},{"x1":1.72,"x2":-1.38},{"x1":1.53,"x2":-1.17},{"x1":1.57,"x2":-1.13},{"x1":1.62,"x2":-1.48},{"x1":1.45,"x2":-1.00},{"x1":1.38,"x2":-0.99},{"x1":1.30,"x2":-1.03},
{"x1":-0.08,"x2":-1.60},{"x1":-0.06,"x2":-1.78},{"x1":-0.04,"x2":-1.66},{"x1":-0.02,"x2":-1.84},{"x1":0.00,"x2":-1.60},{"x1":0.02,"x2":-1.78},{"x1":0.04,"x2":-1.55},{"x1":0.06,"x2":-1.86},{"x1":0.08,"x2":-1.52},{"x1":0.10,"x2":-1.83},{"x1":0.12,"x2":-1.53},{"x1":0.14,"x2":-1.87},{"x1":0.16,"x2":-1.54},{"x1":0.18,"x2":-1.86},{"x1":0.20,"x2":-1.52},{"x1":0.22,"x2":-1.88},{"x1":0.24,"x2":-1.52},{"x1":0.26,"x2":-1.88},{"x1":0.28,"x2":-1.55},{"x1":0.30,"x2":-1.86},{"x1":0.32,"x2":-1.53},{"x1":0.34,"x2":-1.88},{"x1":0.36,"x2":-1.52},{"x1":0.38,"x2":-1.85},{"x1":0.40,"x2":-1.55},{"x1":0.42,"x2":-1.88},{"x1":0.44,"x2":-1.58},{"x1":0.46,"x2":-1.78},{"x1":0.48,"x2":-1.68},{"x1":0.43,"x2":-1.68},{"x1":0.01,"x2":-1.58},{"x1":0.05,"x2":-1.98},{"x1":0.11,"x2":-1.91},{"x1":0.17,"x2":-1.95},{"x1":0.23,"x2":-1.97},{"x1":0.29,"x2":-1.91},{"x1":0.35,"x2":-1.97},{"x1":0.41,"x2":-1.92},{"x1":-0.03,"x2":-2.00},{"x1":0.08,"x2":-1.45},{"x1":0.13,"x2":-1.42},{"x1":0.19,"x2":-1.44},{"x1":0.25,"x2":-1.47},{"x1":0.31,"x2":-1.43},{"x1":0.37,"x2":-1.46},{"x1":0.43,"x2":-1.50},{"x1":0.00,"x2":-1.50},{"x1":0.21,"x2":-1.40},{"x1":0.29,"x2":-1.36},{"x1":0.35,"x2":-1.42},
{"x1":-0.82,"x2":-1.93},{"x1":-0.79,"x2":-1.97},{"x1":-0.76,"x2":-1.85},{"x1":-0.74,"x2":-2.00},{"x1":-0.71,"x2":-1.88},{"x1":-0.69,"x2":-1.76},{"x1":-0.67,"x2":-1.98},{"x1":-0.65,"x2":-1.83},{"x1":-0.63,"x2":-1.93},{"x1":-0.61,"x2":-1.79},{"x1":-0.59,"x2":-2.05},{"x1":-0.57,"x2":-1.72},{"x1":-0.55,"x2":-1.98},{"x1":-0.53,"x2":-1.69},{"x1":-0.51,"x2":-2.05},{"x1":-0.49,"x2":-1.72},{"x1":-0.47,"x2":-2.06},{"x1":-0.45,"x2":-1.68},{"x1":-0.43,"x2":-2.02},{"x1":-0.41,"x2":-1.67},{"x1":-0.39,"x2":-2.08},{"x1":-0.37,"x2":-1.66},{"x1":-0.35,"x2":-2.10},{"x1":-0.33,"x2":-1.68},{"x1":-0.31,"x2":-2.04},{"x1":-0.29,"x2":-1.66},{"x1":-0.27,"x2":-2.08},{"x1":-0.25,"x2":-1.71},{"x1":-0.23,"x2":-2.00},{"x1":-0.21,"x2":-1.69},{"x1":-0.19,"x2":-2.05},{"x1":-0.17,"x2":-1.80},{"x1":-0.15,"x2":-1.95},{"x1":-0.13,"x2":-1.72},{"x1":-0.11,"x2":-1.98},{"x1":-0.09,"x2":-1.76},{"x1":-0.07,"x2":-1.92},{"x1":-0.05,"x2":-1.80},{"x1":-0.03,"x2":-1.88},{"x1":-0.01,"x2":-1.70},{"x1":-0.66,"x2":-1.70},{"x1":-0.72,"x2":-1.90},{"x1":-0.60,"x2":-1.68},{"x1":-0.52,"x2":-1.62},{"x1":-0.44,"x2":-1.58},{"x1":-0.36,"x2":-1.62},{"x1":-0.28,"x2":-1.60},{"x1":-0.20,"x2":-1.63},{"x1":-0.14,"x2":-1.60},{"x1":-0.08,"x2":-1.68},{"x1":-0.75,"x2":-2.20},{"x1":-0.67,"x2":-2.25},{"x1":-0.58,"x2":-2.15},{"x1":-0.50,"x2":-2.25},{"x1":-0.42,"x2":-2.15},{"x1":-0.34,"x2":-2.20},{"x1":-0.26,"x2":-2.15},{"x1":-0.18,"x2":-2.08},{"x1":-0.10,"x2":-2.15},{"x1":-0.04,"x2":-2.12},{"x1":-0.70,"x2":-2.35},{"x1":-0.60,"x2":-2.32},{"x1":-0.47,"x2":-2.28},{"x1":-0.38,"x2":-2.32},{"x1":-0.30,"x2":-2.28},{"x1":-0.22,"x2":-2.30},{"x1":-0.14,"x2":-2.25},{"x1":-0.06,"x2":-2.22},{"x1":-0.84,"x2":-2.08},{"x1":-0.90,"x2":-2.00},{"x1":-0.95,"x2":-1.98},{"x1":-0.87,"x2":-1.88},{"x1":-0.79,"x2":-2.12},{"x1":-0.94,"x2":-2.10},{"x1":-0.97,"x2":-2.03},{"x1":-1.02,"x2":-2.05},{"x1":-0.65,"x2":-2.08},{"x1":-0.40,"x2":-1.98},{"x1":-0.58,"x2":-2.45},{"x1":-0.48,"x2":-2.50},{"x1":-0.33,"x2":-2.42},{"x1":-0.25,"x2":-2.45},{"x1":-0.15,"x2":-2.42},{"x1":-0.08,"x2":-2.40},{"x1":0.00,"x2":-2.38},{"x1":0.05,"x2":-2.25},{"x1":-0.68,"x2":-2.55},{"x1":-0.55,"x2":-2.55},{"x1":-0.42,"x2":-2.52},
{"x1":0.97,"x2":-1.33},{"x1":1.01,"x2":-1.45},{"x1":1.03,"x2":-1.28},{"x1":1.06,"x2":-1.49},{"x1":1.09,"x2":-1.21},{"x1":1.12,"x2":-1.44},{"x1":1.15,"x2":-1.23},{"x1":1.18,"x2":-1.41},{"x1":1.21,"x2":-1.19},{"x1":1.24,"x2":-1.46},{"x1":1.27,"x2":-1.22},{"x1":1.30,"x2":-1.41},{"x1":1.33,"x2":-1.30},{"x1":1.36,"x2":-1.36},{"x1":1.39,"x2":-1.30},{"x1":1.42,"x2":-1.38},{"x1":1.04,"x2":-1.21},{"x1":1.07,"x2":-1.39},{"x1":1.10,"x2":-1.26},{"x1":1.13,"x2":-1.50},{"x1":1.16,"x2":-1.21},{"x1":1.19,"x2":-1.39},{"x1":1.22,"x2":-1.47},{"x1":1.25,"x2":-1.24},{"x1":1.28,"x2":-1.43},{"x1":1.31,"x2":-1.28},{"x1":1.34,"x2":-1.42},{"x1":1.37,"x2":-1.23},{"x1":1.40,"x2":-1.47},{"x1":1.02,"x2":-1.37},{"x1":1.08,"x2":-1.33},{"x1":1.14,"x2":-1.36},{"x1":1.20,"x2":-1.30},{"x1":1.26,"x2":-1.38},{"x1":1.32,"x2":-1.33},{"x1":1.38,"x2":-1.41},{"x1":1.11,"x2":-1.33},{"x1":1.17,"x2":-1.29},{"x1":1.23,"x2":-1.34},{"x1":1.29,"x2":-1.31},{"x1":0.99,"x2":-1.24},{"x1":1.05,"x2":-1.43},{"x1":1.15,"x2":-1.46},{"x1":1.35,"x2":-1.45},{"x1":1.43,"x2":-1.25},{"x1":1.12,"x2":-1.40},{"x1":1.22,"x2":-1.42},{"x1":1.18,"x2":-1.27},{"x1":1.28,"x2":-1.27},{"x1":1.09,"x2":-1.47},
{"x1":-0.03,"x2":-1.69},{"x1":0.00,"x2":-1.76},{"x1":0.03,"x2":-1.58},{"x1":0.06,"x2":-1.70},{"x1":0.09,"x2":-1.80},{"x1":0.12,"x2":-1.64},{"x1":0.15,"x2":-1.73},{"x1":0.18,"x2":-1.60},{"x1":0.21,"x2":-1.78},{"x1":0.24,"x2":-1.62},{"x1":0.27,"x2":-1.78},{"x1":0.30,"x2":-1.61},{"x1":0.33,"x2":-1.78},{"x1":0.36,"x2":-1.64},{"x1":0.39,"x2":-1.80},{"x1":0.42,"x2":-1.72},{"x1":0.45,"x2":-1.66},{"x1":0.47,"x2":-1.76},{"x1":0.02,"x2":-1.84},{"x1":0.08,"x2":-1.65},{"x1":0.14,"x2":-1.77},{"x1":0.20,"x2":-1.71},{"x1":0.26,"x2":-1.64},{"x1":0.32,"x2":-1.71},{"x1":0.38,"x2":-1.58},{"x1":0.44,"x2":-1.80},{"x1":0.10,"x2":-1.71},{"x1":0.16,"x2":-1.61},{"x1":0.22,"x2":-1.73},{"x1":0.28,"x2":-1.70},{"x1":0.34,"x2":-1.62},{"x1":0.40,"x2":-1.76},{"x1":-0.01,"x2":-1.64},{"x1":0.05,"x2":-1.61},{"x1":0.19,"x2":-1.83},{"x1":0.25,"x2":-1.85},{"x1":0.31,"x2":-1.59},{"x1":0.37,"x2":-1.82},{"x1":0.43,"x2":-1.61},{"x1":0.13,"x2":-1.83},
{"x1":-0.68,"x2":-1.84},{"x1":-0.65,"x2":-1.92},{"x1":-0.62,"x2":-1.80},{"x1":-0.59,"x2":-1.88},{"x1":-0.56,"x2":-1.76},{"x1":-0.53,"x2":-1.96},{"x1":-0.50,"x2":-1.72},{"x1":-0.47,"x2":-1.91},{"x1":-0.44,"x2":-1.74},{"x1":-0.41,"x2":-1.97},{"x1":-0.38,"x2":-1.74},{"x1":-0.35,"x2":-1.94},{"x1":-0.32,"x2":-1.84},{"x1":-0.29,"x2":-1.77},{"x1":-0.26,"x2":-1.96},{"x1":-0.23,"x2":-1.74},{"x1":-0.20,"x2":-1.80},{"x1":-0.17,"x2":-1.94},{"x1":-0.14,"x2":-1.84},{"x1":-0.11,"x2":-1.78},{"x1":-0.08,"x2":-1.86},{"x1":-0.05,"x2":-1.90},{"x1":-0.66,"x2":-1.78},{"x1":-0.60,"x2":-1.94},{"x1":-0.54,"x2":-1.84},{"x1":-0.48,"x2":-1.78},{"x1":-0.42,"x2":-1.89},{"x1":-0.36,"x2":-1.80},{"x1":-0.30,"x2":-1.87},{"x1":-0.24,"x2":-1.91},{"x1":-0.18,"x2":-1.78},{"x1":-0.12,"x2":-1.95},{"x1":-0.63,"x2":-1.86},{"x1":-0.57,"x2":-1.80},{"x1":-0.51,"x2":-1.89},{"x1":-0.45,"x2":-1.83},{"x1":-0.39,"x2":-1.78},{"x1":-0.33,"x2":-1.91},{"x1":-0.27,"x2":-1.86},{"x1":-0.21,"x2":-1.88},
{"x1":0.52,"x2":-1.62},{"x1":0.56,"x2":-1.57},{"x1":0.60,"x2":-1.62},{"x1":0.64,"x2":-1.53},{"x1":0.68,"x2":-1.59},{"x1":0.72,"x2":-1.49},{"x1":0.76,"x2":-1.57},{"x1":0.80,"x2":-1.50},{"x1":0.84,"x2":-1.55},{"x1":0.88,"x2":-1.46},{"x1":0.55,"x2":-1.70},{"x1":0.62,"x2":-1.56},{"x1":0.70,"x2":-1.52},{"x1":0.78,"x2":-1.48},{"x1":0.86,"x2":-1.40},{"x1":0.57,"x2":-1.58},{"x1":0.65,"x2":-1.65},{"x1":0.73,"x2":-1.44},{"x1":0.81,"x2":-1.60},{"x1":0.89,"x2":-1.55}
],
"cost": [
{"it":0,"cost":8.28},{"it":10,"cost":8.02},{"it":20,"cost":7.75},{"it":30,"cost":7.47},{"it":40,"cost":7.19},{"it":50,"cost":6.92},{"it":60,"cost":6.64},{"it":70,"cost":6.37},{"it":80,"cost":6.10},{"it":90,"cost":5.84},{"it":100,"cost":5.57},{"it":110,"cost":5.30},{"it":120,"cost":5.03},{"it":130,"cost":4.76},{"it":140,"cost":4.48},{"it":150,"cost":4.20},{"it":160,"cost":3.91},{"it":170,"cost":3.62},{"it":180,"cost":3.32},{"it":190,"cost":3.02},{"it":200,"cost":2.73},{"it":210,"cost":2.40},{"it":220,"cost":2.12},{"it":230,"cost":1.90},{"it":240,"cost":1.75},{"it":250,"cost":1.66},{"it":260,"cost":1.60},{"it":270,"cost":1.57},{"it":280,"cost":1.55},{"it":290,"cost":1.535},
{"it":300,"cost":1.535},{"it":310,"cost":1.522},{"it":320,"cost":1.541},{"it":330,"cost":1.518},{"it":340,"cost":1.530},{"it":350,"cost":1.512},{"it":360,"cost":1.536},{"it":370,"cost":1.520},{"it":380,"cost":1.528},{"it":390,"cost":1.509},
{"it":400,"cost":1.531},{"it":410,"cost":1.514},{"it":420,"cost":1.526},{"it":430,"cost":1.505},{"it":440,"cost":1.529},{"it":450,"cost":1.511},{"it":460,"cost":1.523},{"it":470,"cost":1.502},{"it":480,"cost":1.527},{"it":490,"cost":1.510},
{"it":500,"cost":1.521},{"it":510,"cost":1.499},{"it":520,"cost":1.524},{"it":530,"cost":1.508},{"it":540,"cost":1.517},{"it":550,"cost":1.497},{"it":560,"cost":1.522},{"it":570,"cost":1.505},{"it":580,"cost":1.515},{"it":590,"cost":1.496},
{"it":600,"cost":1.519},{"it":610,"cost":1.500},{"it":620,"cost":1.513},{"it":630,"cost":1.494},{"it":640,"cost":1.516},{"it":650,"cost":1.498},{"it":660,"cost":1.510},{"it":670,"cost":1.491},{"it":680,"cost":1.514},{"it":690,"cost":1.495},
{"it":700,"cost":1.507},{"it":710,"cost":1.489},{"it":720,"cost":1.511},{"it":730,"cost":1.492},{"it":740,"cost":1.503},{"it":750,"cost":1.486},{"it":760,"cost":1.506},{"it":770,"cost":1.490},{"it":780,"cost":1.512},{"it":790,"cost":1.484},
{"it":800,"cost":1.500},{"it":810,"cost":1.482},{"it":820,"cost":1.497},{"it":830,"cost":1.479},{"it":840,"cost":1.495},{"it":850,"cost":1.480},{"it":860,"cost":1.492},{"it":870,"cost":1.475},{"it":880,"cost":1.490},{"it":890,"cost":1.473},
{"it":900,"cost":1.488},{"it":910,"cost":1.471},{"it":920,"cost":1.485},{"it":930,"cost":1.468},{"it":940,"cost":1.484},{"it":950,"cost":1.467},{"it":960,"cost":1.481},{"it":970,"cost":1.463},{"it":980,"cost":1.478},{"it":990,"cost":1.461},
{"it":1000,"cost":1.476},{"it":1010,"cost":1.459},{"it":1020,"cost":1.473},{"it":1030,"cost":1.457},{"it":1040,"cost":1.471},{"it":1050,"cost":1.455},{"it":1060,"cost":1.470},{"it":1070,"cost":1.452},{"it":1080,"cost":1.468},{"it":1090,"cost":1.451},
{"it":1100,"cost":1.466},{"it":1110,"cost":1.449},{"it":1120,"cost":1.463},{"it":1130,"cost":1.448},{"it":1140,"cost":1.462},{"it":1150,"cost":1.446},{"it":1160,"cost":1.460},{"it":1170,"cost":1.444},{"it":1180,"cost":1.459},{"it":1190,"cost":1.443},
{"it":1200,"cost":1.458},{"it":1210,"cost":1.442},{"it":1220,"cost":1.456},{"it":1230,"cost":1.441},{"it":1240,"cost":1.455},{"it":1250,"cost":1.440},{"it":1260,"cost":1.454},{"it":1270,"cost":1.439},{"it":1280,"cost":1.453},{"it":1290,"cost":1.438},
{"it":1300,"cost":1.452},{"it":1310,"cost":1.437},{"it":1320,"cost":1.451},{"it":1330,"cost":1.438},{"it":1340,"cost":1.466},{"it":1350,"cost":1.437},{"it":1360,"cost":1.450},{"it":1370,"cost":1.436},{"it":1380,"cost":1.449},{"it":1390,"cost":1.435},
{"it":1400,"cost":1.449},{"it":1410,"cost":1.434},{"it":1420,"cost":1.448},{"it":1430,"cost":1.435},{"it":1440,"cost":1.447},{"it":1450,"cost":1.433},{"it":1460,"cost":1.448},{"it":1470,"cost":1.434},{"it":1480,"cost":1.446},{"it":1490,"cost":1.433},
{"it":1500,"cost":1.447},{"it":1510,"cost":1.432},{"it":1520,"cost":1.446},{"it":1530,"cost":1.433},{"it":1540,"cost":1.445},{"it":1550,"cost":1.431},{"it":1560,"cost":1.446},{"it":1570,"cost":1.432},{"it":1580,"cost":1.444},{"it":1590,"cost":1.431},
{"it":1600,"cost":1.445},{"it":1610,"cost":1.430},{"it":1620,"cost":1.444},{"it":1630,"cost":1.431},{"it":1640,"cost":1.443},{"it":1650,"cost":1.430},{"it":1660,"cost":1.444},{"it":1670,"cost":1.430},{"it":1680,"cost":1.443},{"it":1690,"cost":1.429},
{"it":1700,"cost":1.444},{"it":1710,"cost":1.430},{"it":1720,"cost":1.442},{"it":1730,"cost":1.429},{"it":1740,"cost":1.443},{"it":1750,"cost":1.430},{"it":1760,"cost":1.442},{"it":1770,"cost":1.428},{"it":1780,"cost":1.443},{"it":1790,"cost":1.429},
{"it":1800,"cost":1.442},{"it":1810,"cost":1.428},{"it":1820,"cost":1.441},{"it":1830,"cost":1.429},{"it":1840,"cost":1.442},{"it":1850,"cost":1.428},{"it":1860,"cost":1.441},{"it":1870,"cost":1.429},{"it":1880,"cost":1.442},{"it":1890,"cost":1.430},{"it":1900,"cost":1.470},{"it":1910,"cost":1.432},
{"it":1920,"cost":1.441},{"it":1930,"cost":1.428},{"it":1940,"cost":1.442},{"it":1950,"cost":1.429},{"it":1960,"cost":1.441},{"it":1970,"cost":1.430},{"it":1980,"cost":1.442},{"it":1990,"cost":1.431},{"it":2000,"cost":1.440}
]
},
"hconcat": [
 {
  "width": 373, "height": 297,
  "title": "Grun et al - 1850 x 3000",
  "data": {"name": "scatter"},
  "mark": {"type": "point", "shape": "circle", "filled": true, "size": 24, "fill": "black", "fillOpacity": 0.4, "stroke": "black", "strokeOpacity": 0.4, "strokeWidth": 1.2, "opacity": 1},
  "encoding": {
   "x": {"field": "x1", "type": "quantitative", "scale": {"domain": [-1.64, 1.96], "nice": false, "zero": false}, "axis": {"values": [-1.5, -1, -0.5, 0, 0.5, 1, 1.5], "format": ".1f", "title": "x1", "titlePadding": 4}},
   "y": {"field": "x2", "type": "quantitative", "scale": {"domain": [-3.79, -0.32], "nice": false, "zero": false}, "axis": {"values": [-3.5, -3, -2.5, -2, -1.5, -1, -0.5], "format": ".1f", "title": "x2"}}
  }
 },
 {
  "width": 373, "height": 297,
  "title": "Runtime: 17.86s",
  "data": {"name": "cost"},
  "mark": {"type": "line", "color": "black", "strokeWidth": 2.4},
  "encoding": {
   "x": {"field": "it", "type": "quantitative", "scale": {"domain": [-100, 2100], "nice": false, "zero": false}, "axis": {"values": [0, 500, 1000, 1500, 2000], "format": "d", "title": "Iteration", "titlePadding": 4}},
   "y": {"field": "cost", "type": "quantitative", "scale": {"domain": [1.04, 8.59], "nice": false, "zero": false}, "axis": {"values": [2, 3, 4, 5, 6, 7, 8], "format": "d", "title": "Cost"}}
  }
 }
]
}
